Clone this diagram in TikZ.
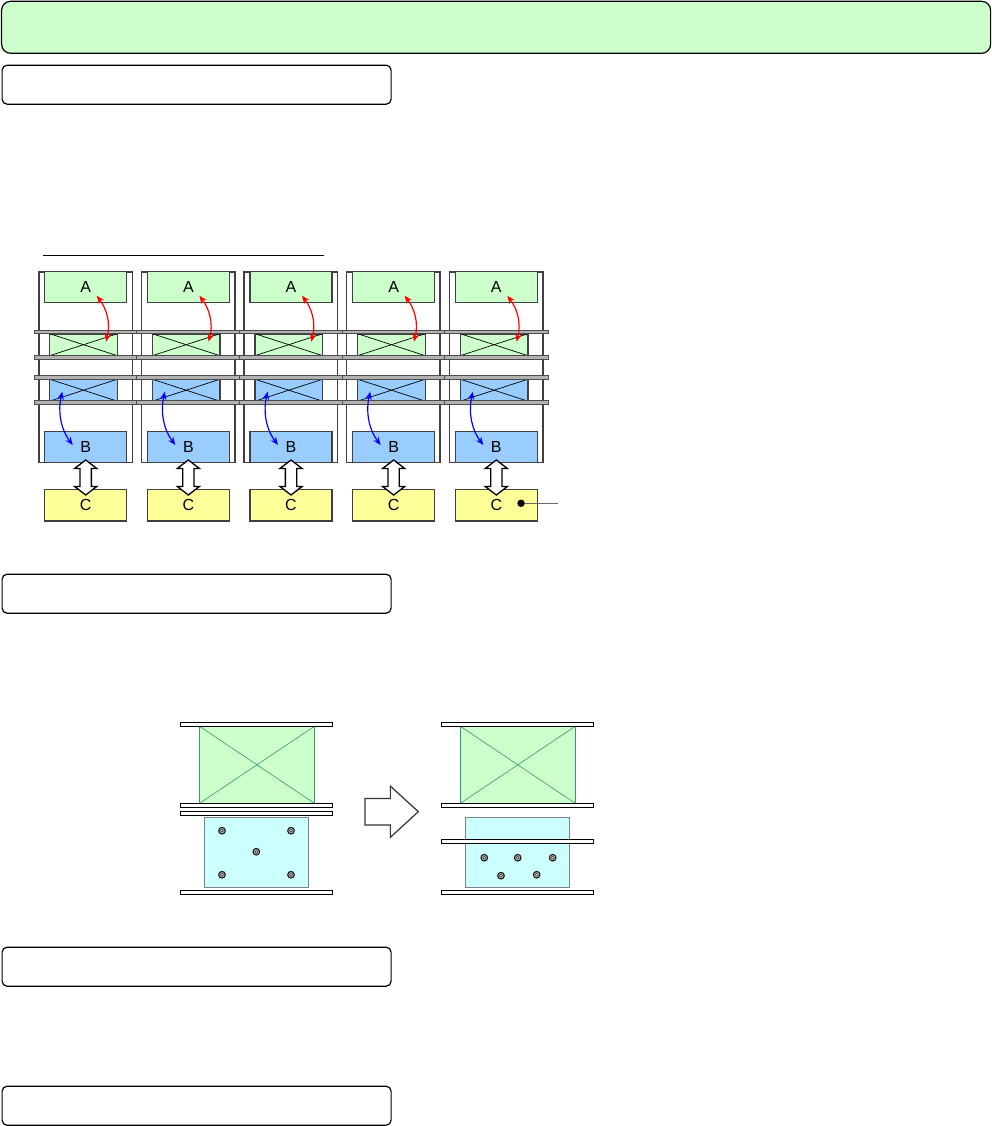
\documentclass[tikz,border=0pt]{standalone}
\usepackage{fontspec}
\setmainfont{Liberation Sans}
\usetikzlibrary{arrows.meta,shapes.arrows}
\definecolor{palegreen}{HTML}{CCFFCC}
\definecolor{paleblue}{HTML}{99CCFF}
\definecolor{paleyellow}{HTML}{FFFF99}
\definecolor{palecyan}{HTML}{CCFFFF}
\definecolor{seagreen}{HTML}{339966}
\tikzset{
  headbox/.style={draw, line width=1.2pt, rounded corners=9pt, fill=palegreen, anchor=north west, inner sep=0pt},
  secbox/.style={draw, line width=1.2pt, rounded corners=5pt, fill=white, minimum width=389pt, minimum height=39pt, anchor=north west, inner sep=0pt},
  framebox/.style={draw=black!75, line width=1.6pt, minimum width=93.6pt, minimum height=190.6pt, inner sep=0pt},
  cellbox/.style={draw=black!75, line width=1.4pt, minimum width=82pt, inner sep=0pt, font=\fontsize{16pt}{18pt}\selectfont},
  crossbox/.style={draw=black!75, line width=1.4pt, minimum width=67.6pt, minimum height=21pt, inner sep=0pt},
  rail/.style={draw=black!70, fill=black!30, line width=1pt, minimum width=103.4pt, minimum height=3.4pt, inner sep=0pt},
  plate/.style={draw, fill=white, line width=1.2pt, minimum width=152.4pt, minimum height=4pt, inner sep=0pt},
  bigbox/.style={draw=seagreen, fill=palegreen, line width=1.1pt, minimum width=115.4pt, minimum height=77pt, inner sep=0pt},
  cyanbox/.style={draw=black!50, fill=palecyan, line width=1.1pt, minimum width=104.4pt, minimum height=70pt, inner sep=0pt},
  bolt/.style={circle, draw=black!90, fill=black!25, line width=1.1pt, minimum size=6.6pt, inner sep=0pt},
  boltcore/.style={circle, draw=black!75, fill=white, line width=0.7pt, minimum size=3pt, inner sep=0pt},
  swaparrow/.style={double arrow, shape border rotate=90, draw, fill=white, line width=1.3pt, minimum height=35pt, minimum width=21pt, double arrow head extend=5.5pt, double arrow tip angle=105, inner sep=5pt},
  movearrow/.style={single arrow, anchor=west, draw=black!80, fill=white, line width=1.2pt, minimum height=53.4pt, minimum width=50pt, single arrow head extend=12.4pt, single arrow tip angle=85, inner sep=12.6pt},
  redlink/.style={red, line width=1.2pt, {Stealth[length=8pt,width=6.5pt]}-{Stealth[length=8pt,width=6.5pt]}},
  bluelink/.style={blue, line width=1.2pt, {Stealth[length=8pt,width=6.5pt]}-{Stealth[length=8pt,width=6.5pt]}},
}
\begin{document}
\begin{tikzpicture}[x=1pt, y=-1pt]
    \useasboundingbox (0,0) rectangle (992,1126);

    % Khung tieu de
    \node[headbox, minimum width=989pt, minimum height=52pt] (title) at (1,0.7) {};
    \node[secbox] (sec1) at (1.5,64.6) {};
    \node[secbox] (sec2) at (1.5,573.6) {};
    \node[secbox] (sec3) at (1.5,946.6) {};
    \node[secbox] (sec4) at (1.5,1085.6) {};

    % Duong gach tren cac cot
    \coordinate (linel) at (43,255);
    \coordinate (liner) at (324,255);
    \draw[line width=1pt] (linel) -- (liner);

    % Nam cot
    \foreach \c in {0,...,4} {
      \begin{scope}[xshift=\c*102.65pt]
        \node[framebox] (frame\c) at (85.5,367) {};
        \node[cellbox, fill=palegreen, minimum height=31pt] (a\c) at (85.7,287.2) {A};
        \node[cellbox, fill=paleblue, minimum height=31pt] (b\c) at (85.7,447) {B};
        \node[cellbox, fill=paleyellow, minimum height=31.3pt] (k\c) at (85.7,505.3) {C};

        \node[crossbox, fill=palegreen] (g\c) at (83.5,344.7) {};
        \draw[line width=0.7pt] (g\c.north west) -- (g\c.south east);
        \draw[line width=0.7pt] (g\c.south west) -- (g\c.north east);
        \node[crossbox, fill=paleblue] (h\c) at (83.5,390.2) {};
        \draw[line width=0.7pt] (h\c.north west) -- (h\c.south east);
        \draw[line width=0.7pt] (h\c.south west) -- (h\c.north east);

        \node[rail] (ra\c) at (86,332) {};
        \node[rail] (rb\c) at (86,357.3) {};
        \node[rail] (rc\c) at (86,377.3) {};
        \node[rail] (rd\c) at (86,402.5) {};

        % Mui ten cong
        \coordinate (redu\c) at (96.7,295.7);
        \coordinate (redd\c) at (106,341.7);
        \coordinate (bluu\c) at (62.3,391.7);
        \coordinate (blud\c) at (72.7,445);
        \draw[redlink] (redu\c) .. controls (106,308) and (111,322) .. (redd\c);
        \draw[bluelink] (bluu\c) .. controls (58,410) and (60,428) .. (blud\c);

        \node[swaparrow] (s\c) at (85.7,477.5) {};
      \end{scope}
    }

    % Chu thich o C cuoi
    \node[circle, fill=black, minimum size=7.5pt, inner sep=0pt] (dot) at (521,503.3) {};
    \coordinate (leader) at (558,503.3);
    \draw[line width=1pt, black!60] (dot) -- (leader);

    % Hinh ben trai
    \node[bigbox] (gl) at (257,764.8) {};
    \draw[seagreen, line width=0.6pt] (gl.north west) -- (gl.south east);
    \draw[seagreen, line width=0.6pt] (gl.south west) -- (gl.north east);
    \node[cyanbox] (cl) at (256.5,852.3) {};
    \node[plate] (pla) at (256.5,724.3) {};
    \node[plate] (plb) at (256.5,805.3) {};
    \node[plate] (plc) at (256.5,813.3) {};
    \node[plate] (pld) at (256.5,892.3) {};
    \foreach \px/\py in {222/830.7, 291/830.7, 256.3/851.7, 222/874.7, 291/874.7} {
      \node[bolt] at (\px,\py) {};
      \node[boltcore] at (\px,\py) {};
    }

    % Mui ten lon
    \node[movearrow] (move) at (364.3,811.7) {};

    % Hinh ben phai
    \node[bigbox] (gr) at (517.8,764.8) {};
    \draw[seagreen, line width=0.6pt] (gr.north west) -- (gr.south east);
    \draw[seagreen, line width=0.6pt] (gr.south west) -- (gr.north east);
    \node[cyanbox] (cr) at (517.3,852.3) {};
    \node[plate] (pra) at (517.5,724.3) {};
    \node[plate] (prb) at (517.5,805.3) {};
    \node[plate] (prc) at (517.5,841.5) {};
    \node[plate] (prd) at (517.5,892.3) {};
    \foreach \px/\py in {484.3/857.7, 517.7/857.7, 552.7/857.7, 501/875.7, 536.7/874.7} {
      \node[bolt] at (\px,\py) {};
      \node[boltcore] at (\px,\py) {};
    }
\end{tikzpicture}
\end{document}
